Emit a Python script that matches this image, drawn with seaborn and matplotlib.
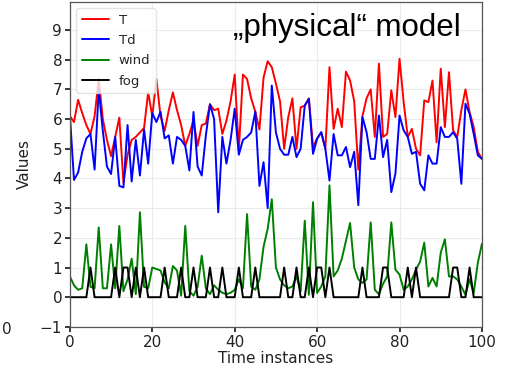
import matplotlib
matplotlib.use("Agg")
import matplotlib.pyplot as plt
import numpy as np
import pandas as pd
import seaborn as sns

# time axis and series
time = list(range(101))

T = [6.1, 5.9, 6.65, 6.2, 5.8, 5.5, 6.1, 7.35, 6.0, 5.3,
     4.75, 5.4, 6.05, 3.85, 4.8, 5.3, 5.4, 5.55, 5.7, 6.9,
     6.1, 7.35, 6.1, 5.6, 6.3, 6.9, 6.3, 5.8, 5.1, 5.5,
     5.95, 5.1, 5.8, 5.85, 6.5, 6.3, 6.35, 5.5, 5.95, 6.6,
     7.5, 4.95, 7.5, 7.35, 6.7, 6.25, 5.65, 7.4, 7.95, 7.75,
     7.2, 6.6, 5.0, 6.07, 6.7, 5.0, 6.4, 6.45, 6.7, 5.05,
     5.35, 5.55, 5.0, 7.75, 5.67, 6.35, 5.73, 7.6, 7.3, 6.6,
     4.3, 6.1, 6.7, 7.0, 5.4, 7.87, 5.4, 5.5, 6.97, 6.07,
     8.03, 6.57, 5.4, 5.67, 5.0, 4.78, 6.63, 6.57, 7.3, 5.22,
     7.7, 5.73, 7.58, 5.62, 5.4, 6.3, 7.0, 6.24, 5.73, 4.9,
     4.66]

Td = [6.15, 3.95, 4.2, 4.9, 5.35, 5.5, 4.3, 7.0, 5.6, 4.4,
      4.15, 5.4, 3.75, 3.7, 5.8, 3.9, 5.3, 4.1, 5.65, 4.5,
      6.2, 5.9, 6.25, 5.35, 5.45, 4.5, 5.4, 5.3, 5.1, 4.27,
      6.24, 4.4, 4.1, 5.45, 6.5, 6.0, 2.86, 5.4, 4.5, 5.3,
      6.35, 4.8, 5.3, 5.4, 5.55, 6.25, 3.75, 4.55, 3.0, 7.13,
      5.55, 5.0, 4.8, 4.8, 5.4, 4.72, 5.0, 6.46, 6.68, 4.83,
      5.34, 5.56, 5.0, 3.93, 5.5, 4.78, 4.78, 5.06, 4.38, 4.9,
      3.1, 6.07, 5.56, 4.66, 4.66, 6.12, 4.72, 5.3, 3.54, 4.16,
      6.12, 5.62, 5.4, 4.83, 4.9, 3.82, 3.6, 4.78, 4.5, 4.5,
      5.73, 5.4, 5.4, 5.56, 5.34, 3.82, 6.52, 6.18, 5.5, 4.78,
      4.66]

wind = [0.7, 0.4, 0.25, 0.3, 1.78, 0.35, 0.3, 2.35, 0.3, 0.3,
        1.78, 0.3, 2.4, 0.2, 0.6, 1.3, 0.1, 2.86, 0.35, 0.3,
        1.0, 0.95, 0.9, 0.5, 0.3, 1.05, 0.9, 0.05, 2.4, 0.2,
        0.05, 0.35, 1.4, 0.3, 0.1, 0.4, 0.25, 0.15, 0.1, 0.15,
        0.25, 0.6, 0.3, 2.8, 0.36, 0.25, 0.6, 1.7, 2.3, 3.3,
        1.0, 0.6, 0.4, 0.3, 0.36, 0.7, 0.2, 2.58, 0.08, 3.2,
        0.14, 0.36, 0.7, 3.77, 0.7, 0.9, 1.3, 1.9, 2.5, 1.0,
        0.6, 0.48, 0.6, 2.52, 0.25, 0.1, 0.45, 0.7, 2.52, 0.93,
        0.76, 0.25, 0.36, 0.6, 0.93, 1.2, 1.84, 0.36, 0.65, 0.36,
        1.5, 1.95, 0.7, 0.7, 0.6, 0.36, 0.08, 0.6, 0.14, 1.16,
        1.8]

fog = [0, 0, 0, 0, 0, 1, 0, 0, 0, 0,
       0, 1, 0, 1, 1, 0, 1, 0, 1, 0,
       0, 0, 0, 1, 0, 0, 0, 1, 0, 0,
       1, 0, 0, 0, 1, 0, 0, 1, 0, 0,
       0, 1, 0, 0, 0, 1, 0, 0, 0, 0,
       0, 0, 1, 0, 0, 1, 0, 0, 1, 0,
       1, 1, 0, 1, 0, 0, 0, 0, 0, 0,
       0, 1, 0, 0, 0, 0, 1, 1, 0, 0,
       0, 0, 1, 0, 1, 0, 0, 0, 0, 0,
       0, 0, 0, 1, 1, 0, 0, 1, 0, 0,
       0]

series_names = ["T", "Td", "wind", "fog"]
palette = {"T": "red", "Td": "blue", "wind": "green", "fog": "black"}

frame = pd.concat(
    [pd.DataFrame({"time": time, "value": vals, "series": name})
     for name, vals in zip(series_names, [T, Td, wind, fog])],
    ignore_index=True,
)

sns.set_theme(style="whitegrid", rc={
    "axes.edgecolor": "#555555", "axes.linewidth": 0.9,
    "grid.color": "#ebebeb", "grid.linewidth": 0.8,
    "xtick.bottom": True, "ytick.left": True,
    "xtick.major.size": 3.5, "ytick.major.size": 3.5,
    "xtick.color": "#222222", "ytick.color": "#222222",
    "axes.labelcolor": "#222222",
})
plt.rcParams["font.family"] = ["DejaVu Sans"]

fig = plt.figure(figsize=(5.1, 3.74), dpi=100)
ax = fig.add_axes([0.137, 0.126, 0.808, 0.869])

sns.lineplot(data=frame, x="time", y="value", hue="series",
             hue_order=series_names, palette=palette, linewidth=1.4, ax=ax)

ax.set_xlim(0, 100)
ax.set_ylim(-1, 9.95)
ax.set_xticks(np.arange(0, 101, 20))
ax.set_yticks(np.arange(-1, 10, 1))
ax.tick_params(labelsize=11, pad=2)
ax.set_xlabel("Time instances", fontsize=11, labelpad=1)
ax.set_ylabel("Values", fontsize=11, labelpad=6)

leg = ax.legend(loc="upper left", fontsize=9.5, handlelength=2.1,
                handletextpad=0.7, borderaxespad=0.5, labelspacing=0.55,
                frameon=True)
leg.get_frame().set_edgecolor("#dddddd")

fig.text(0.681, 0.925, "\u201ephysical\u201c model", fontsize=22.5, color="black",
         family=["Liberation Sans", "DejaVu Sans"], ha="center", va="center")
fig.text(0.004, 1 - 329 / 374, "0", fontsize=11, color="#222222",
         ha="left", va="center")

fig.savefig("out.png", dpi=100)
